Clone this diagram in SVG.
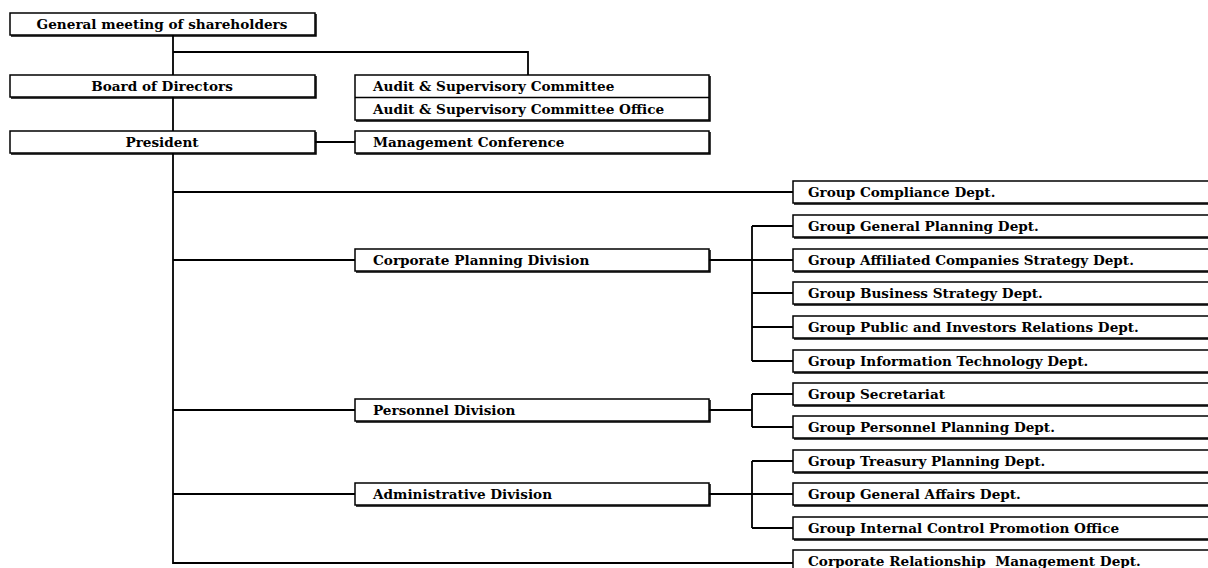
<svg xmlns="http://www.w3.org/2000/svg" width="1208" height="568" viewBox="0 0 1208 568">
<style>
.box{fill:#fff;stroke:#000;stroke-width:1.5}
.sh{fill:none;stroke:#000;stroke-width:1.5}
.ln{fill:none;stroke:#000;stroke-width:1.8}
text{font-family:"DejaVu Serif","Liberation Serif",serif;font-weight:bold;font-size:13.6px;fill:#000;white-space:pre}
.c{text-anchor:middle}
</style>
<rect width="1208" height="568" fill="#fff"/>
<g id="connectors">
<path class="ln" d="M173 35V563H793"/>
<path class="ln" d="M173 52H528V75"/>
<path class="ln" d="M315 142H355"/>
<path class="ln" d="M173 192H793"/>
<path class="ln" d="M173 260H355M709 260H793M752 226V361M752 226H793M752 293H793M752 327H793M752 361H793"/>
<path class="ln" d="M173 410H355M709 410H752M752 394V427M752 394H793M752 427H793"/>
<path class="ln" d="M173 494H355M709 494H793M752 461V528M752 461H793M752 528H793"/>
</g>
<g id="n-gms"><rect class="box" x="10" y="13" width="305" height="22"/><path class="sh" d="M11 36H316V14"/><text class="c" x="162" y="29">General meeting of shareholders</text></g>
<g id="n-board"><rect class="box" x="10" y="75" width="305" height="22"/><path class="sh" d="M11 98H316V76"/><text class="c" x="162" y="91">Board of Directors</text></g>
<g id="n-president"><rect class="box" x="10" y="131" width="305" height="22"/><path class="sh" d="M11 154H316V132"/><text class="c" x="162" y="147">President</text></g>
<g id="n-audit"><rect class="box" x="355" y="75" width="354" height="45"/><path class="sh" d="M355 97.5H709"/><path class="sh" d="M356 121H710V76"/><text x="373" y="91">Audit &amp; Supervisory Committee</text><text x="373" y="113.5">Audit &amp; Supervisory Committee Office</text></g>
<g id="n-mgmt"><rect class="box" x="355" y="131" width="354" height="22"/><path class="sh" d="M356 154H710V132"/><text x="373" y="147">Management Conference</text></g>
<g id="n-corpplan"><rect class="box" x="355" y="249" width="354" height="22"/><path class="sh" d="M356 272H710V250"/><text x="373" y="265">Corporate Planning Division</text></g>
<g id="n-personnel"><rect class="box" x="355" y="399" width="354" height="22"/><path class="sh" d="M356 422H710V400"/><text x="373" y="415">Personnel Division</text></g>
<g id="n-admin"><rect class="box" x="355" y="483" width="354" height="22"/><path class="sh" d="M356 506H710V484"/><text x="373" y="499">Administrative Division</text></g>
<g id="n-compliance"><rect class="box" x="793" y="181" width="430" height="22"/><path class="sh" d="M794 204H1210"/><text x="808" y="197">Group Compliance Dept.</text></g>
<g id="n-genplan"><rect class="box" x="793" y="215" width="430" height="22"/><path class="sh" d="M794 238H1210"/><text x="808" y="231">Group General Planning Dept.</text></g>
<g id="n-affil"><rect class="box" x="793" y="249" width="430" height="22"/><path class="sh" d="M794 272H1210"/><text x="808" y="265">Group Affiliated Companies Strategy Dept.</text></g>
<g id="n-bizstrat"><rect class="box" x="793" y="282" width="430" height="22"/><path class="sh" d="M794 305H1210"/><text x="808" y="298">Group Business Strategy Dept.</text></g>
<g id="n-pir"><rect class="box" x="793" y="316" width="430" height="22"/><path class="sh" d="M794 339H1210"/><text x="808" y="332">Group Public and Investors Relations Dept.</text></g>
<g id="n-it"><rect class="box" x="793" y="350" width="430" height="22"/><path class="sh" d="M794 373H1210"/><text x="808" y="366">Group Information Technology Dept.</text></g>
<g id="n-secretariat"><rect class="box" x="793" y="383" width="430" height="22"/><path class="sh" d="M794 406H1210"/><text x="808" y="399">Group Secretariat</text></g>
<g id="n-perplan"><rect class="box" x="793" y="416" width="430" height="22"/><path class="sh" d="M794 439H1210"/><text x="808" y="432">Group Personnel Planning Dept.</text></g>
<g id="n-treasury"><rect class="box" x="793" y="450" width="430" height="22"/><path class="sh" d="M794 473H1210"/><text x="808" y="466">Group Treasury Planning Dept.</text></g>
<g id="n-genaff"><rect class="box" x="793" y="483" width="430" height="22"/><path class="sh" d="M794 506H1210"/><text x="808" y="499">Group General Affairs Dept.</text></g>
<g id="n-internal"><rect class="box" x="793" y="517" width="430" height="22"/><path class="sh" d="M794 540H1210"/><text x="808" y="533">Group Internal Control Promotion Office</text></g>
<g id="n-corprel"><rect class="box" x="793" y="550" width="430" height="22"/><text x="808" y="566">Corporate Relationship  Management Dept.</text></g>
</svg>
